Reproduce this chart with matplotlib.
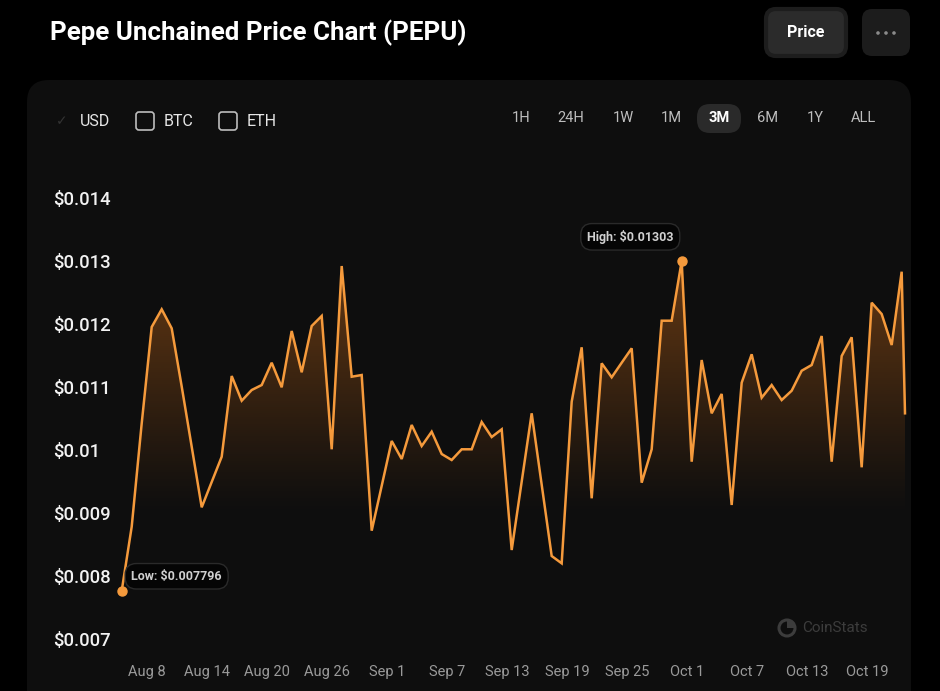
import matplotlib
matplotlib.use("Agg")
import matplotlib.pyplot as plt
import matplotlib.dates as mdates
from matplotlib.patches import FancyBboxPatch, Wedge, Circle
import numpy as np
import pandas as pd

# ---------------- data ----------------
title = "Pepe Unchained Price Chart (PEPU)"
prices = [0.007796, 0.008814, 0.010454, 0.011984, 0.012265, 0.011963, 0.01104, 0.010084, 0.009122, 0.009524,
          0.009925, 0.011206, 0.010814, 0.010984, 0.011063, 0.011417, 0.011027, 0.011921, 0.011265, 0.012,
          0.012159, 0.010043, 0.012952, 0.011195, 0.011222, 0.008751, 0.009462, 0.010175, 0.009889, 0.010429,
          0.010095, 0.010322, 0.009968, 0.009873, 0.010043, 0.010043, 0.010476, 0.010238, 0.01036, 0.008444,
          0.009529, 0.010614, 0.009481, 0.008349, 0.008233, 0.010798, 0.011662, 0.009265, 0.011408, 0.011186,
          0.011417, 0.011646, 0.009513, 0.010043, 0.012084, 0.012084, 0.01303, 0.009846, 0.01146, 0.010614,
          0.010921, 0.009159, 0.0111, 0.011551, 0.010862, 0.011063, 0.010825, 0.010973, 0.01129, 0.011381,
          0.011841, 0.009846, 0.011524, 0.011821, 0.009757, 0.01237, 0.01219, 0.011698, 0.012862, 0.010614]
daily_times = list(pd.date_range("2025-08-05 11:15", periods=79, freq="D"))
last_time = pd.Timestamp("2025-10-22 19:15")
times = daily_times + [last_time]

y_ticks = [0.007, 0.008, 0.009, 0.010, 0.011, 0.012, 0.013, 0.014]
y_tick_labels = ["$0.007", "$0.008", "$0.009", "$0.01", "$0.011", "$0.012", "$0.013", "$0.014"]
x_tick_dates = list(pd.date_range("2025-08-08", periods=13, freq="6D"))
x_tick_labels = ["Aug 8", "Aug 14", "Aug 20", "Aug 26", "Sep 1", "Sep 7", "Sep 13",
                 "Sep 19", "Sep 25", "Oct 1", "Oct 7", "Oct 13", "Oct 19"]
currencies = ["USD", "BTC", "ETH"]
ranges = ["1H", "24H", "1W", "1M", "3M", "6M", "1Y", "ALL"]
low_label = "Low: $0.007796"
high_label = "High: $0.01303"

# ---------------- style ----------------
W, H = 940, 691
plt.rcParams['font.family'] = ['Roboto', 'DejaVu Sans']
ORANGE = "#f59a3c"
fig = plt.figure(figsize=(W / 100, H / 100), dpi=100, facecolor="#000000")

# background / UI layer in pixel coordinates
bg = fig.add_axes([0, 0, 1, 1])
bg.set_xlim(0, W)
bg.set_ylim(H, 0)
bg.axis("off")
bg.set_facecolor("#000000")

card = FancyBboxPatch((27, 80), 884, 640, boxstyle="round,pad=0,rounding_size=22",
                      fc="#0e0e0e", ec="none")
bg.add_patch(card)

bg.text(50, 33, title, color="white", fontsize=18.6, fontweight="bold", va="center", ha="left")

btn = FancyBboxPatch((766, 9), 80, 47, boxstyle="round,pad=0,rounding_size=10",
                     fc="#2b2b2b", ec="#1d1d1d", lw=3)
bg.add_patch(btn)
bg.text(806, 32, "Price", color="white", fontsize=11.5, fontweight="bold", ha="center", va="center")
dots = FancyBboxPatch((862, 9), 48, 47, boxstyle="round,pad=0,rounding_size=10",
                      fc="#1c1c1c", ec="none")
bg.add_patch(dots)
for dx in (-8, 0, 8):
    bg.add_patch(Circle((886 + dx, 33), 1.8, fc="#8a8a8a", ec="none"))

# currency toggles
bg.text(62, 121, "\u2713", color="#333333", fontsize=10, ha="center", va="center",
        family=["DejaVu Sans"])
bg.text(80, 121, currencies[0], color="#e6e6e6", fontsize=11.5, ha="left", va="center")
for cx, name in ((136, currencies[1]), (219, currencies[2])):
    bg.add_patch(FancyBboxPatch((cx, 112), 18, 18, boxstyle="round,pad=0,rounding_size=3",
                                fc="none", ec="#bdbdbd", lw=1.2))
    bg.text(cx + 28, 121, name, color="#e6e6e6", fontsize=11.5, ha="left", va="center")

# range buttons
range_x = [521, 571, 623, 671, 719, 768, 815, 863]
bg.add_patch(FancyBboxPatch((697, 104), 44, 29, boxstyle="round,pad=0,rounding_size=13",
                            fc="#2a2a2a", ec="none"))
for rx, r in zip(range_x, ranges):
    bg.text(rx, 118, r, color="#ffffff" if r == "3M" else "#bdbdbd", fontsize=10.5,
            fontweight="bold" if r == "3M" else "normal", ha="center", va="center")

# watermark
bg.add_patch(Circle((787, 628), 8, fc="none", ec="#3c3c3c", lw=2.2))
bg.add_patch(Wedge((787, 628), 8, 270, 360, fc="#3c3c3c", ec="none"))
bg.text(802, 628, "CoinStats", color="#3c3c3c", fontsize=11, ha="left", va="center")

# ---------------- chart axes ----------------
px_left, px_right = 121.7, 905.0
px_top, px_bottom = 180.0, 655.0


def val_at(py):
    return 0.014 - (py - 200.0) / 63000.0


ymax, ymin = val_at(px_top), val_at(px_bottom)
ax = fig.add_axes([px_left / W, 1 - px_bottom / H, (px_right - px_left) / W, (px_bottom - px_top) / H])
ax.set_facecolor("none")
for s in ax.spines.values():
    s.set_visible(False)

xnum = mdates.date2num(times)
y = np.array(prices)

# gradient fill under the line
poly = ax.fill_between(xnum, y, ymin, color="none", lw=0)
ngrad = 256
gv = np.linspace(ymin, ymax, ngrad)
alpha = np.clip((gv - 0.0090) / (0.0131 - 0.0090), 0, 1) ** 1.1 * 0.48
grad = np.zeros((ngrad, 1, 4))
grad[:, 0, 0] = 0.80
grad[:, 0, 1] = 0.42
grad[:, 0, 2] = 0.10
grad[:, 0, 3] = alpha
img = ax.imshow(grad, extent=[xnum[0], xnum[-1], ymin, ymax], origin="lower",
                aspect="auto", interpolation="bilinear", zorder=1)
img.set_clip_path(poly.get_paths()[0], transform=ax.transData)

ax.plot(xnum, y, color=ORANGE, lw=1.8, zorder=3, solid_joinstyle="miter", clip_on=False)

# low / high markers
i_low = int(np.argmin(y))
i_high = int(np.argmax(y))
ax.plot([xnum[i_low]], [y[i_low]], "o", color=ORANGE, ms=6.5, zorder=4, clip_on=False)
ax.plot([xnum[i_high]], [y[i_high]], "o", color=ORANGE, ms=6.5, zorder=4, clip_on=False)
box = dict(boxstyle="round,pad=0.5,rounding_size=0.9", fc="#050505", ec="#2a2a2a", lw=1)
ax.annotate(low_label, (xnum[i_low], y[i_low]), xytext=(7, 10.5), textcoords="offset points",
            ha="left", va="center", color="#d0d0d0", fontsize=9, fontweight="bold",
            bbox=box, zorder=5)
ax.annotate(high_label, (xnum[i_high], y[i_high]), xytext=(-37, 17.5), textcoords="offset points",
            ha="center", va="center", color="#d0d0d0", fontsize=9, fontweight="bold",
            bbox=box, zorder=5)

ax.set_xlim(xnum[0], xnum[-1])
ax.set_ylim(ymin, ymax)

# y tick labels (left aligned, outside)
ax.set_yticks([])
ytr = ax.get_yaxis_transform()
for v, lab in zip(y_ticks, y_tick_labels):
    ax.text(-(px_left - 53) / (px_right - px_left), v, lab, transform=ytr, ha="left", va="center",
            color="#f2f2f2", fontsize=13.3, fontweight="medium")

# x tick labels
ax.set_xticks(mdates.date2num(x_tick_dates))
ax.set_xticklabels(x_tick_labels, color="#9a9a9a", fontsize=10.5)
ax.tick_params(axis="x", length=0, pad=7)

fig.savefig("out.png", dpi=100, facecolor="#000000")
